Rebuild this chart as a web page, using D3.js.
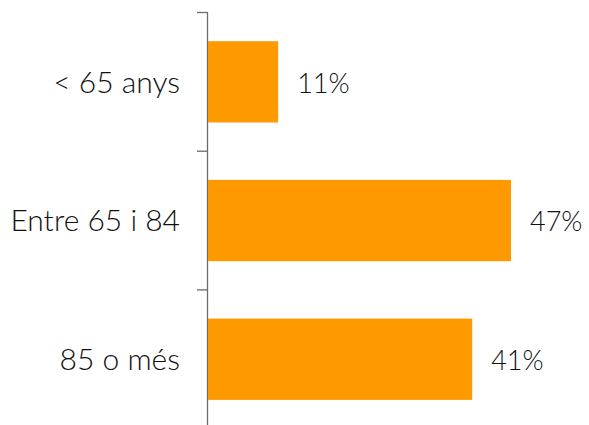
<!DOCTYPE html>
<html>
<head>
<meta charset="utf-8">
<script src="https://cdn.jsdelivr.net/npm/d3@7"></script>
<style>
  body { margin: 0; background: #fff; }
</style>
</head>
<body>
<script>
var w = 589,
    h = 425;

var categories = ["< 65 anys", "Entre 65 i 84", "85 o més"];
var values = [11, 47, 41];
var valueLabels = ["11%", "47%", "41%"];

var svg = d3.select("body")
            .append("svg")
            .attr("width", w)
            .attr("height", h);

var x = d3.scaleLinear()
    .domain([0, 47])
    .range([207, 511]);

var y = d3.scaleBand()
    .domain(categories)
    .range([12.5, 428.6])
    .paddingInner(0.414)
    .paddingOuter(0.207);

// axis line + ticks at band boundaries
svg.append("line")
    .attr("x1", 207.5).attr("x2", 207.5)
    .attr("y1", 12).attr("y2", 430)
    .attr("stroke", "#6b6b6b")
    .attr("stroke-width", 1.3);

var bounds = [0, 1, 2, 3].map(function(i) { return 12.5 + i * y.step(); });
svg.selectAll("line.tick")
    .data(bounds)
    .enter()
    .append("line")
    .attr("class", "tick")
    .attr("x1", 197).attr("x2", 207.5)
    .attr("y1", function(d) { return d; })
    .attr("y2", function(d) { return d; })
    .attr("stroke", "#6b6b6b")
    .attr("stroke-width", 1.3);

svg.selectAll("rect")
    .data(values)
    .enter()
    .append("rect")
    .attr("x", x(0) + 1)
    .attr("y", function(d, i) { return y(categories[i]); })
    .attr("width", function(d) { return x(d) - x(0) - 1; })
    .attr("height", y.bandwidth())
    .attr("fill", "#ff9900");

svg.selectAll("text.cat")
    .data(categories)
    .enter()
    .append("text")
    .attr("class", "cat")
    .text(function(d) { return d; })
    .attr("x", 180)
    .attr("y", function(d) { return y(d) + y.bandwidth() / 2; })
    .attr("dy", "0.36em")
    .attr("text-anchor", "end")
    .attr("font-family", "Lato, sans-serif")
    .attr("font-weight", 300)
    .attr("font-size", "30px")
    .attr("fill", "#111");

svg.selectAll("text.val")
    .data(values)
    .enter()
    .append("text")
    .attr("class", "val")
    .text(function(d, i) { return valueLabels[i]; })
    .attr("x", function(d) { return x(d) + 19; })
    .attr("y", function(d, i) { return y(categories[i]) + y.bandwidth() / 2; })
    .attr("dy", "0.4em")
    .attr("font-family", "Lato, sans-serif")
    .attr("font-weight", 300)
    .attr("font-size", "27px")
    .attr("fill", "#111");
</script>
</body>
</html>
